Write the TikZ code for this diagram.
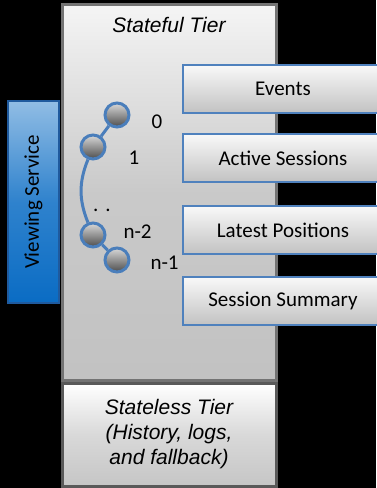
\documentclass[tikz,border=0pt]{standalone}
\usepackage{fontspec}
\setmainfont{Carlito}
\newfontfamily\arialfont{Liberation Sans}
\usepackage{tikz}

\definecolor{ringblue}{HTML}{4A7EBB}
\definecolor{edgeblue}{HTML}{4F81BD}
\definecolor{svcblue}{HTML}{0A6CC4}
\definecolor{svcedge}{HTML}{1F5A9E}

\tikzset{
  tierbox/.style={draw=black!55,line width=3pt,top color=gray!8,bottom color=gray!48,middle color=gray!42,inner sep=0pt},
  storebox/.style={draw=edgeblue,line width=1.5pt,top color=gray!5,bottom color=gray!48,minimum width=200,minimum height=48,inner sep=0pt},
  svcbox/.style={draw=svcedge,line width=2pt,top color=svcblue!45,bottom color=svcblue,middle color=svcblue!85,rotate=90,minimum width=202,minimum height=51,inner sep=0pt},
  shard/.style={circle,draw=ringblue,line width=3pt,top color=gray!30,bottom color=black!70,minimum size=24,inner sep=0pt},
  shardlink/.style={draw=ringblue,line width=3pt},
  tiertext/.style={font=\arialfont\itshape\fontsize{21}{25}\selectfont,align=center}
}

\begin{document}
\begin{tikzpicture}[x=1pt,y=-1pt,font=\fontsize{21}{25}\selectfont]
\fill[black] (0,0) rectangle (376,488);
\useasboundingbox (0,0) rectangle (376,488);
% tiers
\node[tierbox,minimum width=214,minimum height=376] (stateful) at (169,192) {};
\node[tiertext] (statefulTitle) at (169,25) {Stateful Tier};
\node[tierbox,draw=black!65,top color=white,bottom color=gray!45,middle color=gray!30,minimum width=214,minimum height=103,tiertext] (stateless) at (169,434.5) {Stateless Tier\\(History, logs,\\and fallback)};
% viewing service
\node[svcbox] (viewing) at (33.5,202) {Viewing Service};
% stores
\node[storebox] (events) at (283,89) {Events};
\node[storebox] (active) at (283,158) {Active Sessions};
\node[storebox] (latest) at (283,230) {Latest Positions};
\node[storebox] (summary) at (283,301) {Session Summary};
% shards
\node[shard] (s0) at (117,115) {};
\node[shard] (s1) at (93,147) {};
\node[shard] (s2) at (93,235) {};
\node[shard] (s3) at (117,260) {};
\draw[shardlink] (s0) -- (s1);
\draw[shardlink] (s1) to[bend right=22] (s2);
\draw[shardlink] (s2) -- (s3);
\node[anchor=west] (l0) at (148,122) {0};
\node[anchor=west] (l1) at (125,158) {1};
\node[anchor=west] (l2) at (120,232) {n-2};
\node[anchor=west] (l3) at (147,263) {n-1};
\node (dots) at (102,210) {.\,\,.};
\end{tikzpicture}
\end{document}
